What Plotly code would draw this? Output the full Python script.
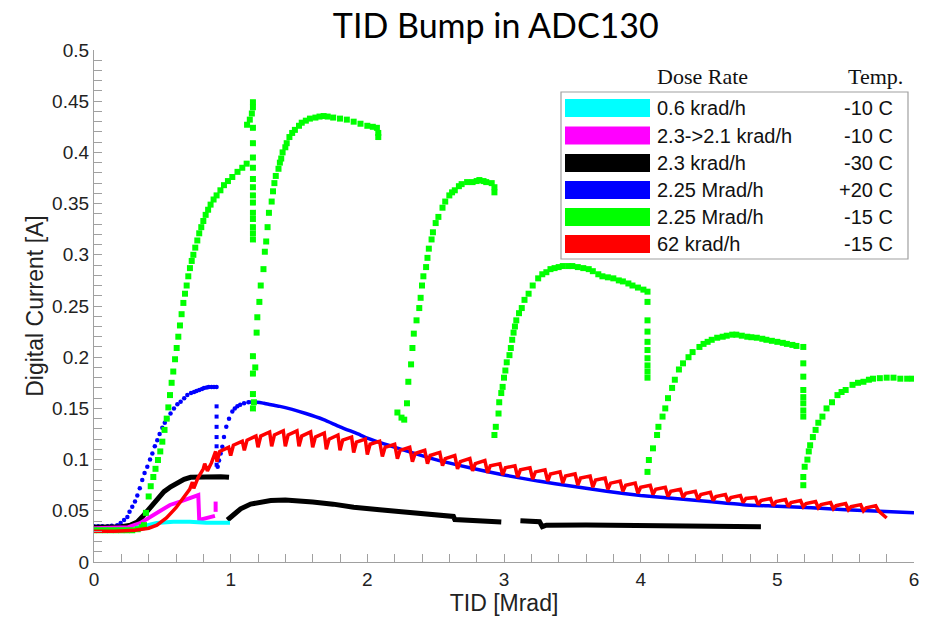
import plotly.graph_objects as go

# ---------------- data ----------------
green_x = [0.00, 0.04, 0.08, 0.12, 0.16, 0.20, 0.24, 0.28, 0.32, 0.35,
           0.366, 0.38, 0.40, 0.415, 0.434, 0.45, 0.468, 0.485, 0.50, 0.516, 0.532, 0.544, 0.556, 0.568,
           0.58, 0.593, 0.605, 0.617, 0.629, 0.641, 0.654, 0.666, 0.678, 0.69, 0.702, 0.715, 0.727,
           0.741, 0.756, 0.77, 0.785, 0.80, 0.817, 0.835, 0.853, 0.875, 0.897, 0.925, 0.951, 0.98,
           1.012, 1.05, 1.085, 1.117,
           1.12, 1.14, 1.155, 1.163, 1.163,
           1.163, 1.163, 1.163, 1.163, 1.163, 1.163, 1.163, 1.163, 1.163, 1.163, 1.163, 1.163, 1.163,
           1.163, 1.163, 1.163, 1.163,
           1.17, 1.18, 1.19, 1.195, 1.21, 1.22, 1.24, 1.25, 1.26, 1.27, 1.28, 1.30, 1.31, 1.32, 1.33,
           1.35, 1.36, 1.37, 1.38, 1.40, 1.41, 1.43, 1.45, 1.47, 1.50, 1.52, 1.55, 1.58, 1.62, 1.65,
           1.68, 1.71, 1.75, 1.80, 1.85, 1.90, 1.95, 2.00, 2.04, 2.07, 2.08, 2.08,
           2.22, 2.25, 2.27, 2.29, 2.30, 2.32, 2.33, 2.34, 2.36, 2.38, 2.39, 2.40, 2.41, 2.43, 2.44,
           2.45, 2.47, 2.48, 2.50, 2.52, 2.55, 2.57, 2.60, 2.62, 2.64, 2.67, 2.69, 2.73, 2.77, 2.80,
           2.82, 2.85, 2.87, 2.91, 2.93, 2.93,
           2.93, 2.94, 2.96, 2.965, 2.98, 2.99, 3.00, 3.01, 3.02, 3.04, 3.05, 3.06, 3.07, 3.08, 3.09,
           3.11, 3.13, 3.15, 3.18, 3.21, 3.25, 3.28, 3.31, 3.34, 3.37, 3.40, 3.43, 3.47, 3.50, 3.54,
           3.58, 3.62, 3.65, 3.69, 3.72, 3.76, 3.80, 3.84, 3.87, 3.91, 3.94, 3.98, 4.02, 4.05,
           4.05, 4.05, 4.05, 4.05, 4.05, 4.05, 4.05, 4.05, 4.05,
           4.05, 4.06, 4.09, 4.12, 4.13, 4.16, 4.18, 4.20, 4.23, 4.25, 4.28, 4.31, 4.35, 4.38, 4.43,
           4.46, 4.49, 4.52, 4.56, 4.60, 4.63, 4.67, 4.70, 4.74, 4.78, 4.81, 4.85, 4.89, 4.92, 4.96,
           5.00, 5.04, 5.07, 5.11, 5.14, 5.19,
           5.19, 5.19, 5.19, 5.19, 5.19, 5.19, 5.19,
           5.19, 5.19, 5.20, 5.22, 5.23, 5.24, 5.26, 5.28, 5.30, 5.33, 5.36, 5.40, 5.44, 5.47, 5.50,
           5.55, 5.59, 5.63, 5.67, 5.70, 5.75, 5.80, 5.85, 5.90, 5.95, 5.99]
green_y = [0.031, 0.031, 0.031, 0.031, 0.031, 0.031, 0.031, 0.031, 0.032, 0.034,
           0.036, 0.048, 0.064, 0.074, 0.083, 0.091, 0.0996, 0.108, 0.1175, 0.129, 0.140, 0.151, 0.163, 0.175,
           0.186, 0.198, 0.209, 0.220, 0.231, 0.242, 0.253, 0.262, 0.270, 0.279, 0.287, 0.294, 0.300,
           0.307, 0.314, 0.321, 0.327, 0.333, 0.339, 0.344, 0.349, 0.354, 0.358, 0.363, 0.368, 0.372,
           0.376, 0.381, 0.385, 0.389,
           0.427, 0.432, 0.438, 0.444, 0.449,
           0.424, 0.409, 0.395, 0.385, 0.374, 0.366, 0.358, 0.351, 0.341, 0.335, 0.327, 0.321, 0.315,
           0.201, 0.184, 0.164, 0.150,
           0.156, 0.19, 0.224, 0.239, 0.254, 0.27, 0.286, 0.303, 0.313, 0.327, 0.341, 0.352, 0.362, 0.37, 0.377,
           0.384, 0.39, 0.394, 0.40, 0.405, 0.409, 0.415, 0.419, 0.422, 0.426, 0.429, 0.431, 0.433, 0.434, 0.435,
           0.4355, 0.435, 0.434, 0.433, 0.432, 0.430, 0.428, 0.426, 0.425, 0.424, 0.419, 0.415,
           0.146, 0.141, 0.139, 0.155, 0.176, 0.193, 0.209, 0.223, 0.236, 0.248, 0.258, 0.27, 0.279, 0.288, 0.297,
           0.306, 0.315, 0.322, 0.331, 0.337, 0.346, 0.352, 0.358, 0.361, 0.363, 0.367, 0.369, 0.371, 0.371, 0.372,
           0.373, 0.372, 0.371, 0.37, 0.366, 0.361,
           0.124, 0.132, 0.145, 0.156, 0.165, 0.171, 0.18, 0.187, 0.195, 0.202, 0.209, 0.217, 0.224, 0.23, 0.236,
           0.243, 0.248, 0.256, 0.262, 0.27, 0.277, 0.281, 0.283, 0.286, 0.287, 0.288, 0.289, 0.289, 0.289, 0.288,
           0.287, 0.286, 0.284, 0.281, 0.279, 0.278, 0.277, 0.275, 0.274, 0.272, 0.27, 0.268, 0.266, 0.264,
           0.254, 0.236, 0.225, 0.215, 0.207, 0.199, 0.192, 0.186, 0.18,
           0.088, 0.0996, 0.111, 0.124, 0.132, 0.142, 0.150, 0.160, 0.17, 0.178, 0.188, 0.194, 0.20, 0.205, 0.21,
           0.213, 0.215, 0.217, 0.219, 0.220, 0.221, 0.222, 0.222, 0.221, 0.22, 0.2195, 0.219, 0.218, 0.217, 0.216,
           0.215, 0.214, 0.213, 0.212, 0.211, 0.21,
           0.194, 0.181, 0.168, 0.161, 0.155, 0.148, 0.142,
           0.075, 0.083, 0.093, 0.10, 0.108, 0.114, 0.122, 0.129, 0.136, 0.142, 0.15, 0.156, 0.163, 0.166, 0.168,
           0.173, 0.175, 0.176, 0.178, 0.179, 0.1795, 0.18, 0.18, 0.179, 0.179, 0.179]

blue_rise_x = [0.0, 0.03, 0.06, 0.1, 0.13, 0.17, 0.195, 0.22, 0.244, 0.26, 0.28, 0.30, 0.317, 0.335, 0.353,
               0.37, 0.39, 0.41, 0.427, 0.445, 0.463, 0.48, 0.50, 0.518, 0.536, 0.56, 0.585, 0.61, 0.634,
               0.66, 0.683, 0.71, 0.732, 0.75, 0.77, 0.79, 0.805, 0.825, 0.84, 0.86, 0.878, 0.897]
blue_rise_y = [0.035, 0.035, 0.035, 0.035, 0.0355, 0.036, 0.038, 0.041, 0.044, 0.049, 0.054, 0.059, 0.065,
               0.072, 0.08, 0.087, 0.093, 0.1, 0.106, 0.113, 0.119, 0.125, 0.131, 0.136, 0.140, 0.145, 0.15,
               0.154, 0.1566, 0.16, 0.163, 0.165, 0.166, 0.167, 0.168, 0.169, 0.17, 0.1705, 0.171, 0.171,
               0.171, 0.171]
blue_drop_x = [0.897, 0.897, 0.897, 0.897, 0.897, 0.897, 0.897]
blue_drop_y = [0.152, 0.142, 0.132, 0.122, 0.113, 0.103, 0.095]
blue_rec_x = [0.905, 0.915, 0.927, 0.939, 0.951, 0.968, 0.988, 1.012, 1.03, 1.049, 1.07, 1.098, 1.13]
blue_rec_y = [0.093, 0.099, 0.106, 0.1126, 0.122, 0.132, 0.14, 0.147, 0.150, 0.152, 0.1535, 0.155, 0.156]
blue_decay_x = [1.13, 1.171, 1.244, 1.317, 1.36, 1.45, 1.55, 1.68, 1.8, 1.95, 2.0, 2.25, 2.5, 2.75, 3.0,
                3.25, 3.5, 3.75, 4.0, 4.25, 4.5, 4.75, 5.0, 5.25, 5.5, 5.75, 6.0]
blue_decay_y = [0.156, 0.1566, 0.155, 0.153, 0.152, 0.149, 0.145, 0.139, 0.132, 0.124, 0.121, 0.11, 0.10,
                0.092, 0.085, 0.079, 0.074, 0.069, 0.065, 0.062, 0.059, 0.056, 0.0545, 0.053, 0.051,
                0.0495, 0.048]

black_x = [0.0, 0.1, 0.2, 0.268, 0.317, 0.366, 0.415, 0.463, 0.512, 0.561, 0.61, 0.659, 0.707, 0.78,
           0.854, 0.927, 0.988, None,
           0.976, 1.0, 1.024, 1.073, 1.146, 1.22, 1.293, 1.4, 1.5, 1.6, 1.75, 1.9, 2.09, 2.3, 2.5,
           2.63, 2.64, 2.8, 2.92, 2.98, None,
           3.12, 3.26, 3.28, 3.31, 3.6, 4.04, 4.5, 4.88]
black_y = [0.034, 0.034, 0.0345, 0.036, 0.039, 0.046, 0.054, 0.062, 0.0687, 0.0735, 0.0775, 0.0807, 0.0827,
           0.0833, 0.0833, 0.0833, 0.0827, None,
           0.041, 0.044, 0.0475, 0.052, 0.0566, 0.0589, 0.060, 0.0605, 0.0598, 0.0585, 0.0565, 0.0535,
           0.051, 0.0485, 0.046, 0.0445, 0.0415, 0.040, 0.0394, 0.039, None,
           0.0403, 0.0394, 0.0345, 0.036, 0.0362, 0.036, 0.0352, 0.0345]

cyan_x = [0.30, 0.385, 0.459, 0.58, 0.70, 0.82, 0.995]
cyan_y = [0.033, 0.036, 0.038, 0.0394, 0.0394, 0.0384, 0.0384]

magenta_x = [0.0, 0.25, 0.337, 0.41, 0.483, 0.556, 0.63, 0.70, 0.763, 0.77, 0.81, 0.85, 0.885, None, 0.89, 0.89]
magenta_y = [0.033, 0.034, 0.038, 0.044, 0.0508, 0.0557, 0.059, 0.062, 0.0654, 0.041, 0.0427, 0.044, 0.045,
             None, 0.049, 0.059]

red_x = [0.00, 0.15, 0.30, 0.40, 0.46, 0.53, 0.60, 0.66, 0.70, 0.72, 0.73, 0.76, 0.80, 0.81, 0.83, 0.86, 0.89,
         0.90, 0.92, 0.985, 1.00, 1.02, 1.085, 1.10, 1.12, 1.185, 1.20, 1.22, 1.285,
         1.30, 1.32, 1.385, 1.40, 1.42, 1.485, 1.50, 1.52, 1.585, 1.60, 1.62, 1.685,
         1.70, 1.72, 1.785, 1.80, 1.82, 1.885, 1.90, 1.92, 1.985, 2.00, 2.02, 2.09,
         2.11, 2.13, 2.20, 2.22, 2.24, 2.31, 2.33, 2.35, 2.42, 2.44, 2.46, 2.53,
         2.55, 2.57, 2.64, 2.66, 2.68, 2.75, 2.77, 2.79, 2.86, 2.88, 2.90, 2.97,
         2.99, 3.01, 3.08, 3.10, 3.12, 3.19, 3.21, 3.23, 3.30, 3.32, 3.34, 3.41,
         3.43, 3.45, 3.52, 3.54, 3.56, 3.63, 3.65, 3.67, 3.74, 3.76, 3.78, 3.85,
         3.87, 3.89, 3.96, 3.98, 4.00, 4.07, 4.09, 4.11, 4.18, 4.20, 4.22, 4.29,
         4.31, 4.33, 4.40, 4.42, 4.44, 4.51, 4.53, 4.55, 4.62, 4.64, 4.66, 4.73,
         4.75, 4.77, 4.84, 4.86, 4.88, 4.95, 4.97, 4.99, 5.06, 5.08, 5.10, 5.17,
         5.19, 5.21, 5.28, 5.30, 5.32, 5.39, 5.41, 5.43, 5.50, 5.52, 5.54, 5.61,
         5.63, 5.65, 5.72, 5.74, 5.80]
red_y = [0.030, 0.030, 0.031, 0.033, 0.036, 0.043, 0.053, 0.063, 0.071, 0.078, 0.072, 0.082, 0.091, 0.096,
         0.089, 0.097, 0.108,
         0.098, 0.108, 0.112, 0.104, 0.114, 0.118, 0.109, 0.119, 0.123, 0.112, 0.123, 0.127,
         0.113, 0.124, 0.128, 0.113, 0.124, 0.128, 0.113, 0.123, 0.127, 0.112, 0.122, 0.126,
         0.110, 0.120, 0.124, 0.109, 0.119, 0.122, 0.107, 0.117, 0.120, 0.105, 0.115, 0.118,
         0.103, 0.112, 0.115, 0.101, 0.109, 0.112, 0.098, 0.106, 0.109, 0.096, 0.104, 0.107,
         0.094, 0.101, 0.104, 0.091, 0.098, 0.101, 0.089, 0.096, 0.099, 0.087, 0.094, 0.096,
         0.085, 0.092, 0.094, 0.083, 0.090, 0.092, 0.081, 0.088, 0.090, 0.079, 0.086, 0.088,
         0.077, 0.084, 0.086, 0.075, 0.082, 0.084, 0.073, 0.080, 0.082, 0.071, 0.077, 0.079,
         0.069, 0.075, 0.077, 0.067, 0.073, 0.075, 0.066, 0.071, 0.073, 0.064, 0.069, 0.071,
         0.063, 0.067, 0.069, 0.061, 0.066, 0.068, 0.060, 0.064, 0.066, 0.059, 0.063, 0.065,
         0.058, 0.062, 0.063, 0.056, 0.060, 0.062, 0.055, 0.059, 0.061, 0.054, 0.058, 0.060,
         0.054, 0.057, 0.059, 0.053, 0.056, 0.058, 0.052, 0.055, 0.057, 0.051, 0.054, 0.056,
         0.050, 0.053, 0.055, 0.050, 0.043]

legend_colors = ["#00FFFF", "#FF00FF", "#000000", "#0000FF", "#00FF00", "#FF0000"]
legend_rates = ["0.6 krad/h", "2.3->2.1 krad/h", "2.3 krad/h", "2.25 Mrad/h", "2.25 Mrad/h", "62 krad/h"]
legend_temps = ["-10 C", "-10 C", "-30 C", "+20 C", "-15 C", "-15 C"]

x_ticks = [0, 1, 2, 3, 4, 5, 6]
y_ticks = [0, 0.05, 0.1, 0.15, 0.2, 0.25, 0.3, 0.35, 0.4, 0.45, 0.5]
y_tick_text = ["0", "0.05", "0.1", "0.15", "0.2", "0.25", "0.3", "0.35", "0.4", "0.45", "0.5"]

# ---------------- figure ----------------
fig = go.Figure()
fig.add_trace(go.Scatter(x=blue_rise_x, y=blue_rise_y, mode="markers",
                         marker=dict(color="#0000FF", size=4.5, line=dict(width=0)), showlegend=False))
fig.add_trace(go.Scatter(x=blue_drop_x, y=blue_drop_y, mode="markers",
                         marker=dict(color="#0000FF", size=4, symbol="square"), showlegend=False))
fig.add_trace(go.Scatter(x=blue_rec_x, y=blue_rec_y, mode="markers",
                         marker=dict(color="#0000FF", size=4.5, line=dict(width=0)), showlegend=False))
fig.add_trace(go.Scatter(x=blue_decay_x, y=blue_decay_y, mode="lines",
                         line=dict(color="#0000FF", width=3.5, shape="spline", smoothing=0.6), showlegend=False))
fig.add_trace(go.Scatter(x=black_x, y=black_y, mode="lines",
                         line=dict(color="#000000", width=5), showlegend=False))
fig.add_trace(go.Scatter(x=magenta_x, y=magenta_y, mode="lines",
                         line=dict(color="#FF00FF", width=4), showlegend=False))
fig.add_trace(go.Scatter(x=cyan_x, y=cyan_y, mode="lines",
                         line=dict(color="#00FFFF", width=4), showlegend=False))
fig.add_trace(go.Scatter(x=green_x, y=green_y, mode="markers",
                         marker=dict(color="#00FF00", size=6, symbol="square", line=dict(width=0)),
                         showlegend=False))
fig.add_trace(go.Scatter(x=red_x, y=red_y, mode="lines",
                         line=dict(color="#FF0000", width=3.5), showlegend=False))

# custom legend (box, swatches, labels)
px0, pw, py0, ph = 94.0, 820.0, 562.0, 512.0
def xp(px):
    return (px - px0) / pw
def yp(py):
    return (py0 - py) / ph

shapes = [dict(type="rect", xref="paper", yref="paper", x0=xp(561), x1=xp(908), y0=yp(259), y1=yp(92),
               line=dict(color="#a0a0a0", width=1.2), fillcolor="white", layer="above")]
annotations = []
row_py = [108, 135.5, 163, 190, 217, 244]
for i, (c, rate, temp) in enumerate(zip(legend_colors, legend_rates, legend_temps)):
    cy = row_py[i]
    shapes.append(dict(type="rect", xref="paper", yref="paper", x0=xp(565), x1=xp(650),
                       y0=yp(cy + 9), y1=yp(cy - 9), fillcolor=c, line=dict(width=0), layer="above"))
    annotations.append(dict(xref="paper", yref="paper", x=xp(655), y=yp(cy), text=rate, showarrow=False,
                            xanchor="left", yanchor="middle",
                            font=dict(family="Liberation Sans, Arial", size=20, color="#111")))
    annotations.append(dict(xref="paper", yref="paper", x=xp(895), y=yp(cy), text=temp, showarrow=False,
                            xanchor="right", yanchor="middle",
                            font=dict(family="Liberation Sans, Arial", size=20, color="#111")))
annotations.append(dict(xref="paper", yref="paper", x=xp(702), y=yp(76), text="Dose Rate", showarrow=False,
                        xanchor="center", yanchor="middle",
                        font=dict(family="Liberation Serif, Times New Roman", size=22, color="#111")))
annotations.append(dict(xref="paper", yref="paper", x=xp(875), y=yp(76), text="Temp.", showarrow=False,
                        xanchor="center", yanchor="middle",
                        font=dict(family="Liberation Serif, Times New Roman", size=22, color="#111")))

fig.update_layout(
    width=931, height=622,
    margin=dict(l=94, r=17, t=50, b=60),
    paper_bgcolor="white", plot_bgcolor="white",
    title=dict(text="TID Bump in ADC130", x=0.49, xref="paper", xanchor="center", y=0.958, yanchor="middle",
               font=dict(family="Lato, Open Sans, Liberation Sans", size=34, color="#000")),
    shapes=shapes, annotations=annotations,
    xaxis=dict(range=[0, 6], tickvals=x_ticks, ticks="inside", ticklen=8, tickcolor="#a0a0a0",
               showline=True, linecolor="#a0a0a0", linewidth=1.2, showgrid=False, zeroline=False,
               minor=dict(dtick=0.2, ticks="inside", ticklen=8, tickcolor="#a0a0a0", showgrid=False),
               tickfont=dict(family="Liberation Sans, Arial", size=19, color="#222"),
               title=dict(text="TID [Mrad]", font=dict(family="Liberation Sans, Arial", size=23, color="#222"),
                          standoff=4)),
    yaxis=dict(range=[0, 0.5], tickvals=y_ticks, ticktext=y_tick_text, ticks="inside", ticklen=8,
               tickcolor="#a0a0a0",
               showline=True, linecolor="#a0a0a0", linewidth=1.2, showgrid=False, zeroline=False,
               minor=dict(dtick=0.01, ticks="inside", ticklen=8, tickcolor="#a0a0a0", showgrid=False),
               tickfont=dict(family="Liberation Sans, Arial", size=19, color="#222"),
               title=dict(text="Digital Current [A]",
                          font=dict(family="Liberation Sans, Arial", size=23, color="#222"), standoff=2)),
)

fig.write_html("out.html", config={"displayModeBar": False},
               post_script="document.body.style.margin='0px';")
